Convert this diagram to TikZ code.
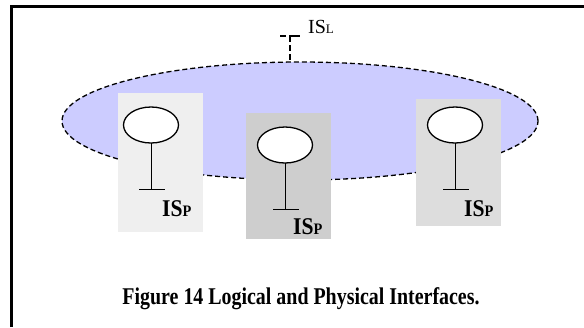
\documentclass[tikz,border=0pt]{standalone}
\usepackage{fontspec}
\setmainfont{Liberation Serif}
\usetikzlibrary{shapes.geometric}
\definecolor{lav}{HTML}{CCCCFF}
\definecolor{boxa}{HTML}{EFEFEF}
\definecolor{boxb}{HTML}{CECECE}
\definecolor{boxc}{HTML}{DDDDDD}
\begin{document}
\begin{tikzpicture}[x=1pt,y=-1pt,
  hostbox/.style={inner sep=0, outer sep=0, anchor=north west, minimum width=85pt},
  port/.style={ellipse, draw, line width=1.3pt, fill=white, minimum width=55pt, minimum height=36pt, inner sep=0, outer sep=0},
  stem/.style={line width=1pt},
  lbl/.style={inner sep=0, anchor=base west, font=\bfseries},
  stub/.style={line width=2pt}
]
\useasboundingbox (0,0) rectangle (584,327);
% frame
\draw[line width=3pt] (11.5,327) -- (11.5,6.5) -- (584,6.5);
% logical network
\node[ellipse, fill=lav, draw, line width=1.3pt, dash pattern=on 5pt off 3pt, minimum width=476pt, minimum height=118pt, inner sep=0] (net) at (300,121) {};
% logical interface stub
\coordinate (stubl) at (280,36);
\coordinate (stubr) at (300,36);
\coordinate (stubtop) at (290,36);
\coordinate (stubbot) at (290,62.5);
\draw[stub, dash pattern=on 6pt off 3pt on 11pt] (stubl) -- (stubr);
\draw[stub, dash pattern=on 6pt off 3pt] (stubtop) -- (stubbot);
\node[inner sep=0, anchor=base west] (isl) at (308,33) {\fontsize{20}{20}\selectfont IS\fontsize{13}{13}\selectfont L};
% hosts
\node[hostbox, fill=boxa, minimum height=139pt] (b1) at (118,93) {};
\node[hostbox, fill=boxb, minimum height=126pt] (b2) at (246,113) {};
\node[hostbox, fill=boxc, minimum height=127pt] (b3) at (416,99) {};
% host 1
\node[port] (p1) at (151,125) {};
\coordinate (t1) at (151,189);
\coordinate (t1l) at (139,189);
\coordinate (t1r) at (165,189);
\draw[stem] (p1.south) -- (t1);
\draw[stem] (t1l) -- (t1r);
\node[lbl] (l1) at (162,216) {\scalebox{0.9}[1]{\fontsize{24}{24}\selectfont IS\fontsize{16}{16}\selectfont P}};
% host 2
\node[port] (p2) at (285,145) {};
\coordinate (t2) at (285,209);
\coordinate (t2l) at (273,209);
\coordinate (t2r) at (299,209);
\draw[stem] (p2.south) -- (t2);
\draw[stem] (t2l) -- (t2r);
\node[lbl] (l2) at (293,234) {\scalebox{0.9}[1]{\fontsize{24}{24}\selectfont IS\fontsize{16}{16}\selectfont P}};
% host 3
\node[port] (p3) at (455,125) {};
\coordinate (t3) at (455,189);
\coordinate (t3l) at (443,189);
\coordinate (t3r) at (469,189);
\draw[stem] (p3.south) -- (t3);
\draw[stem] (t3l) -- (t3r);
\node[lbl] (l3) at (464,216) {\scalebox{0.9}[1]{\fontsize{24}{24}\selectfont IS\fontsize{16}{16}\selectfont P}};
% caption
\node[inner sep=0, anchor=base, font=\bfseries\fontsize{24}{24}\selectfont] (cap) at (301,304) {\scalebox{0.83}[1]{Figure 14 Logical and Physical Interfaces.}};
\end{tikzpicture}
\end{document}
